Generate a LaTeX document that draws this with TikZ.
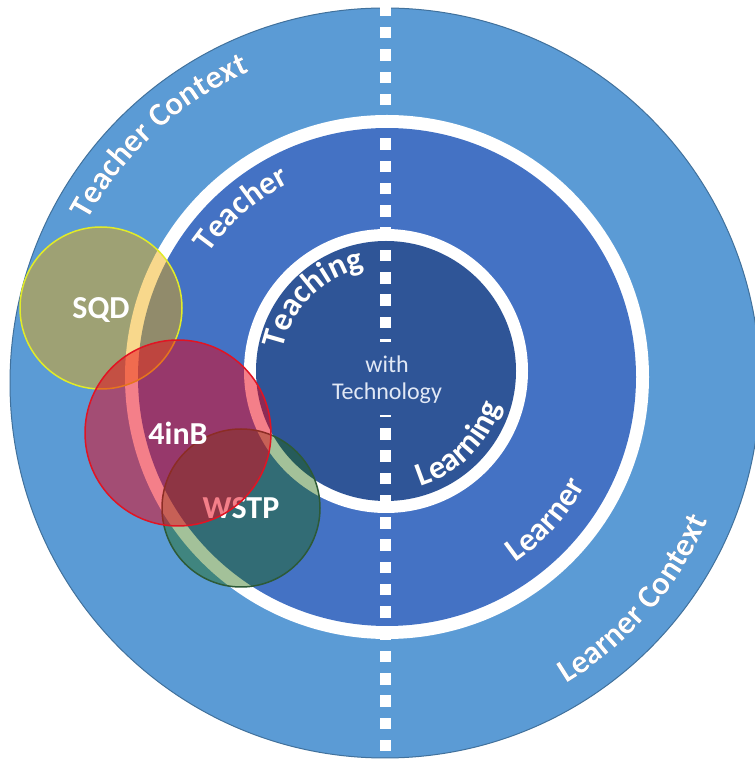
\documentclass[tikz,border=0pt]{standalone}
\usepackage{fontspec}
\setmainfont{Carlito}
\usetikzlibrary{decorations.text}
\definecolor{ctxblue}{RGB}{91,155,213}
\definecolor{ctxedge}{RGB}{65,113,156}
\definecolor{midblue}{RGB}{68,114,196}
\definecolor{inblue}{RGB}{47,85,151}
\definecolor{shadowcol}{RGB}{40,60,100}
\definecolor{centertext}{RGB}{225,232,245}
\definecolor{sqdfill}{RGB}{240,170,0}
\definecolor{sqdedge}{RGB}{225,235,40}
\definecolor{redfill}{RGB}{235,0,20}
\definecolor{rededge}{RGB}{225,20,35}
\definecolor{greenfill}{RGB}{25,100,0}
\definecolor{greenedge}{RGB}{45,90,55}
\newcommand{\ringfont}{\fontsize{33}{33}\selectfont\bfseries}
\tikzset{
  ringlabel/.style={decorate, decoration={text along path, text align=center,
      text color=white, text={|\ringfont|#1}}},
  ringshadow/.style={decorate, decoration={text along path, text align=center,
      text color=shadowcol, text={|\ringfont|#1}}},
  bubblelabel/.style={text=white, font=\fontsize{32}{32}\selectfont\bfseries},
  dashsq/.style={fill=white}
}
\begin{document}
\begin{tikzpicture}[x=1pt,y=1pt]
\useasboundingbox (0,0) rectangle (755,761);
\fill[white] (0,0) rectangle (755,761);
\coordinate (co) at (385,378);
\coordinate (cm) at (387,384);
\coordinate (ci) at (386,390);
% rings
\filldraw[fill=ctxblue, draw=ctxedge, line width=1pt] (co) circle[radius=375pt];
\fill[white] (cm) circle[radius=262pt];
\fill[midblue] (cm) circle[radius=249pt];
\fill[white] (ci) circle[radius=142pt];
\fill[inblue] (ci) circle[radius=130pt];
% dashed divider
\foreach \k in {0,...,33} {
  \fill[dashsq] (379.5,{761-4.7-22.28*\k-11.5}) rectangle ++(11,11.5);
}
\fill[inblue] (372,346) rectangle (400,419);
% centre text
\node[align=center, text=centertext, font=\fontsize{24}{27}\selectfont] (ctr) at (387,381) {with\\Technology};
% ring labels: shadows
\begin{scope}[shift={(1.3,-1.3)}]
\path[ringshadow={Teacher Context}] (co) ++(167.5:339pt) arc[start angle=167.5, end angle=97.5, radius=339pt];
\path[ringshadow={Learner Context}] (co) ++(-81:351pt) arc[start angle=-81, end angle=-1, radius=351pt];
\path[ringshadow={Teacher}] (cm) ++(166:217pt) arc[start angle=166, end angle=96, radius=217pt];
\path[ringshadow={Learner}] (cm) ++(-77:226pt) arc[start angle=-77, end angle=-7, radius=226pt];
\path[ringshadow={Teaching}] (ci) ++(185:105pt) arc[start angle=185, end angle=85, radius=105pt];
\path[ringshadow={Learning}] (ci) ++(-90:120pt) arc[start angle=-90, end angle=0, radius=120pt];
\end{scope}
% ring labels
\path[ringlabel={Teacher Context}] (co) ++(167.5:339pt) arc[start angle=167.5, end angle=97.5, radius=339pt];
\path[ringlabel={Learner Context}] (co) ++(-81:351pt) arc[start angle=-81, end angle=-1, radius=351pt];
\path[ringlabel={Teacher}] (cm) ++(166:217pt) arc[start angle=166, end angle=96, radius=217pt];
\path[ringlabel={Learner}] (cm) ++(-77:226pt) arc[start angle=-77, end angle=-7, radius=226pt];
\path[ringlabel={Teaching}] (ci) ++(185:105pt) arc[start angle=185, end angle=85, radius=105pt];
\path[ringlabel={Learning}] (ci) ++(-90:120pt) arc[start angle=-90, end angle=0, radius=120pt];
% overlay bubbles
\filldraw[fill=greenfill, fill opacity=0.4, draw=greenedge, line width=1.5pt] (241,253) circle[radius=79pt];
\node[bubblelabel] (wstp) at (241,253) {WSTP};
\filldraw[fill=sqdfill, fill opacity=0.45, draw=sqdedge, line width=1.5pt] (101,453) circle[radius=81pt];
\node[bubblelabel] (sqd) at (101,451) {SQD};
\filldraw[fill=redfill, fill opacity=0.5, draw=rededge, line width=1.5pt] (178,328) circle[radius=93pt];
\node[bubblelabel] (finb) at (178,328) {4inB};
\end{tikzpicture}
\end{document}
